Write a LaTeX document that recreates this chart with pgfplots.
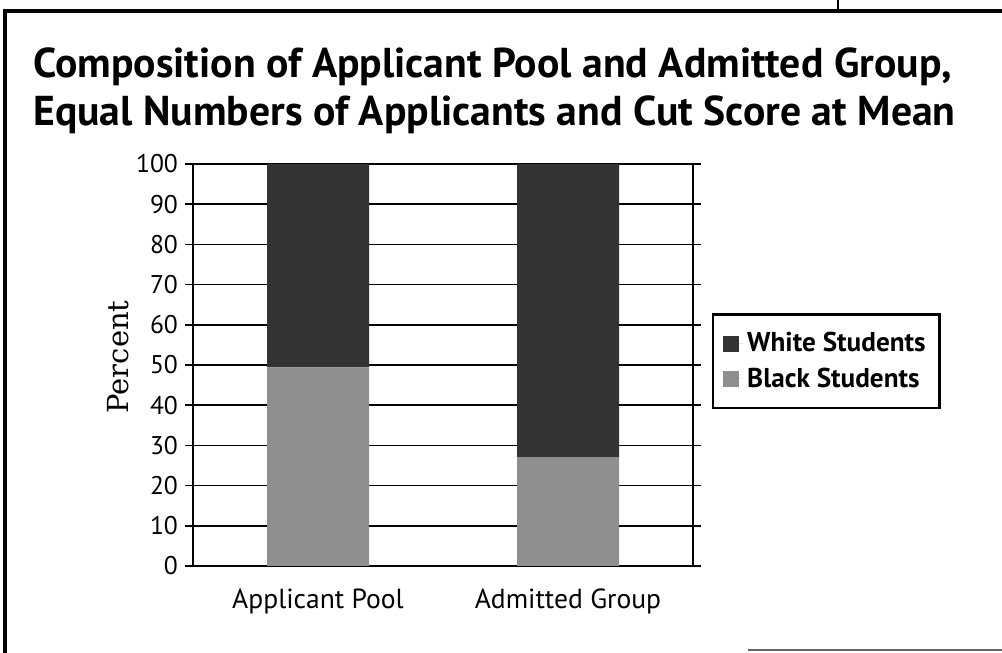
\documentclass[border=0pt]{standalone}
\usepackage{pgfplots}
\pgfplotsset{compat=1.18}
\usepackage{fontspec}
\setmainfont{PT Sans}
\newfontfamily\labelserif{DejaVu Serif}

\definecolor{whitefill}{gray}{0.2}
\definecolor{blackfill}{gray}{0.56}

\begin{document}
\begin{tikzpicture}
% page area: 501pt x 326.5pt
\path[use as bounding box] (0pt,0pt) rectangle (501pt,326.5pt);
% outer frame
\draw[line width=1.6pt] (2.5pt,0pt) -- (2.5pt,321pt) -- (501pt,321pt);
\draw[line width=1pt] (419pt,321pt) -- (419pt,326.5pt);
\draw[line width=1pt, black!60] (374pt,1.5pt) -- (501pt,1.5pt);

\node[anchor=north west, align=left, inner sep=0pt,
      font=\bfseries\fontsize{20.85}{24}\selectfont] at (16.5pt,303pt)
  {Composition of Applicant Pool and Admitted Group,\\
   Equal Numbers of Applicants and Cut Score at Mean};

\begin{axis}[
  at={(96.5pt,43.5pt)}, anchor=south west,
  scale only axis, width=250pt, height=201pt,
  xmin=-0.5, xmax=1.5, ymin=0, ymax=100,
  ybar stacked, bar width=51pt,
  xtick={0,1}, xticklabels={Applicant Pool, Admitted Group},
  x tick style={draw=none},
  xticklabel style={yshift=-4pt, font=\fontsize{13.8}{16}\selectfont},
  ytick={0,10,...,100},
  yticklabel style={font=\fontsize{12.8}{15}\selectfont},
  /pgf/number format/assume math mode=true,
  ymajorgrids, grid style={black, line width=0.8pt},
  tick align=outside, major tick length=4pt,
  y tick style={black, line width=0.8pt},
  axis line style={line width=1pt},
  ylabel={\labelserif\fontsize{14.5}{16}\selectfont Percent},
  every axis y label/.style={at={(axis description cs:-0.15,0.52)}, rotate=90, anchor=center},
  legend style={at={(axis description cs:1.038,0.629)}, anchor=north west,
    draw=black, line width=1.2pt, font=\bfseries\fontsize{13.6}{16}\selectfont,
    inner xsep=5pt, inner ysep=7pt, row sep=2.5pt, cells={anchor=west}},
  reverse legend,
  legend image code/.code={\fill[#1] (0pt,-4pt) rectangle (8pt,4pt);
    \path (0pt,0pt) -- (10pt,0pt);},
]
\addplot[fill=blackfill, draw=none] coordinates {(0,49.4) (1,27.1)};
\addplot[fill=whitefill, draw=none] coordinates {(0,50.6) (1,72.9)};
\legend{Black Students, White Students}
\end{axis}
\end{tikzpicture}
\end{document}
